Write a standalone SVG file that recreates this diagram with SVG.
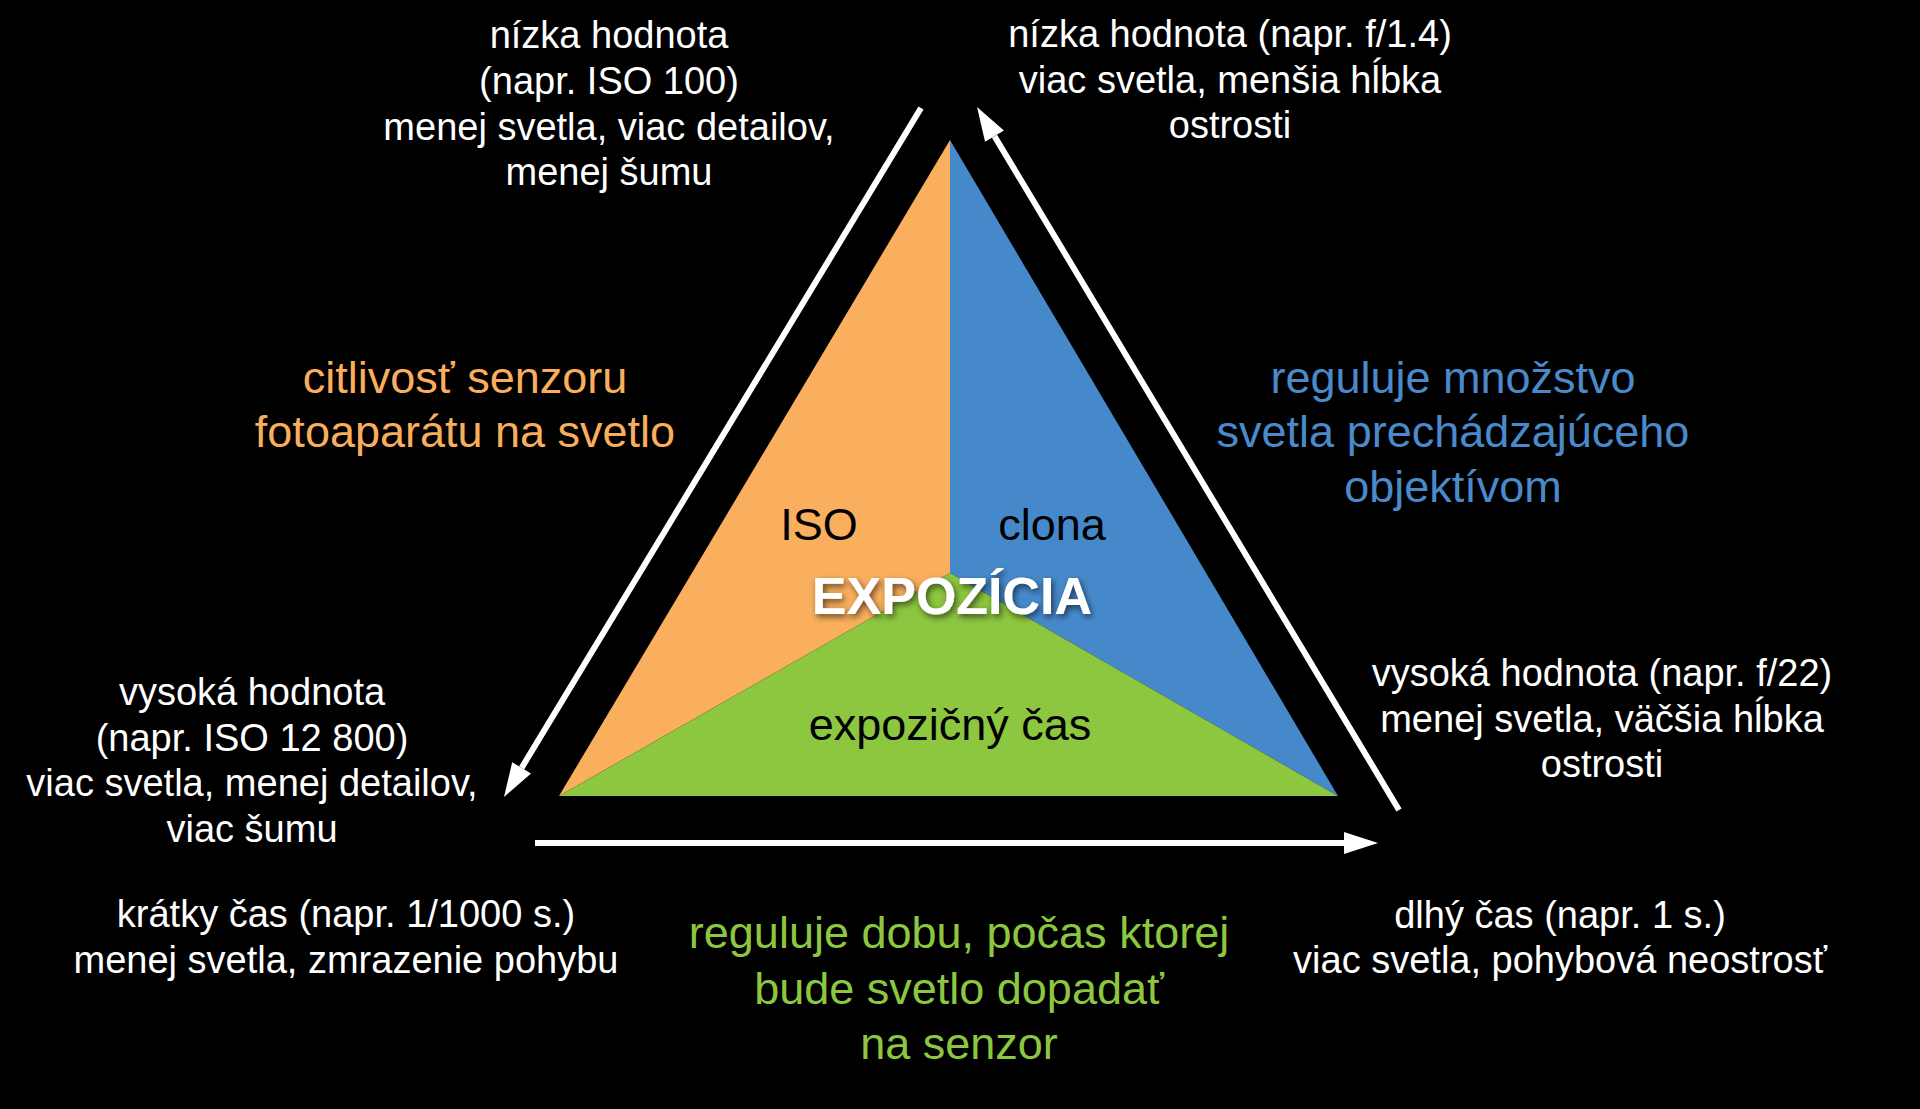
<svg xmlns="http://www.w3.org/2000/svg" width="1920" height="1109" viewBox="0 0 1920 1109">
  <style>
    text { font-family: "Liberation Sans", Arial, sans-serif; text-anchor: middle; }
    .w { fill: #FFFFFF; font-size: 38px; }
    .lbl { fill: #000000; font-size: 45px; }
    .or { fill: #F9AE5E; font-size: 45px; }
    .bl { fill: #4A8ACB; font-size: 45px; }
    .gr { fill: #8DC641; font-size: 45px; }
    .title { fill: #FFFFFF; font-size: 52px; font-weight: bold; filter: url(#shadow); }
    .conn { stroke: #FFFFFF; stroke-width: 6; fill: none; marker-end: url(#head); }
  </style>
  <defs>
    <marker id="head" markerUnits="userSpaceOnUse" markerWidth="34" markerHeight="22" refX="0" refY="11" orient="auto" overflow="visible">
      <path d="M0,0 L34,11 L0,22 z" fill="#FFFFFF"/>
    </marker>
    <filter id="shadow" x="-10%" y="-30%" width="120%" height="160%">
      <feDropShadow dx="2" dy="3" stdDeviation="3" flood-color="#000000" flood-opacity="0.6"/>
    </filter>
  </defs>
  <rect x="0" y="0" width="1920" height="1109" fill="#000000"/>

  <g id="iso">
    <polygon points="950,140 950,573 559,796" fill="#FAAF5E"/>
    <text class="lbl" x="819" y="540">ISO</text>
  </g>
  <g id="clona">
    <polygon points="950,140 1338,796 950,573" fill="#4689CA"/>
    <text class="lbl" x="1052" y="540">clona</text>
  </g>
  <g id="cas">
    <polygon points="559,796 950,573 1338,796" fill="#8DC63F"/>
    <text class="lbl" x="950" y="740">expozičný čas</text>
  </g>
  <g id="expozicia">
    <text class="title" x="952" y="614">EXPOZÍCIA</text>
  </g>

  <g id="connectors">
    <line class="conn" x1="921" y1="108" x2="521.6" y2="767.9"/>
    <line class="conn" x1="1399" y1="810" x2="994.5" y2="136.2"/>
    <line class="conn" x1="535" y1="843" x2="1344" y2="843"/>
  </g>

  <g id="iso-low">
    <text class="w" x="609" y="48">nízka hodnota</text>
    <text class="w" x="609" y="94">(napr. ISO 100)</text>
    <text class="w" x="609" y="140">menej svetla, viac detailov,</text>
    <text class="w" x="609" y="185">menej šumu</text>
  </g>
  <g id="iso-high">
    <text class="w" x="252" y="705">vysoká hodnota</text>
    <text class="w" x="252" y="751">(napr. ISO 12 800)</text>
    <text class="w" x="252" y="796">viac svetla, menej detailov,</text>
    <text class="w" x="252" y="842">viac šumu</text>
  </g>
  <g id="iso-desc">
    <text class="or" x="465" y="393">citlivosť senzoru</text>
    <text class="or" x="465" y="447">fotoaparátu na svetlo</text>
  </g>

  <g id="clona-low">
    <text class="w" x="1230" y="47">nízka hodnota (napr. f/1.4)</text>
    <text class="w" x="1230" y="93">viac svetla, menšia hĺbka</text>
    <text class="w" x="1230" y="138">ostrosti</text>
  </g>
  <g id="clona-high">
    <text class="w" x="1602" y="686">vysoká hodnota (napr. f/22)</text>
    <text class="w" x="1602" y="732">menej svetla, väčšia hĺbka</text>
    <text class="w" x="1602" y="777">ostrosti</text>
  </g>
  <g id="clona-desc">
    <text class="bl" x="1453" y="393">reguluje množstvo</text>
    <text class="bl" x="1453" y="447">svetla prechádzajúceho</text>
    <text class="bl" x="1453" y="502">objektívom</text>
  </g>

  <g id="cas-short">
    <text class="w" x="346" y="927">krátky čas (napr. 1/1000 s.)</text>
    <text class="w" x="346" y="973">menej svetla, zmrazenie pohybu</text>
  </g>
  <g id="cas-long">
    <text class="w" x="1560" y="928">dlhý čas (napr. 1 s.)</text>
    <text class="w" x="1560" y="973">viac svetla, pohybová neostrosť</text>
  </g>
  <g id="cas-desc">
    <text class="gr" x="959" y="948">reguluje dobu, počas ktorej</text>
    <text class="gr" x="959" y="1004">bude svetlo dopadať</text>
    <text class="gr" x="959" y="1059">na senzor</text>
  </g>
</svg>
